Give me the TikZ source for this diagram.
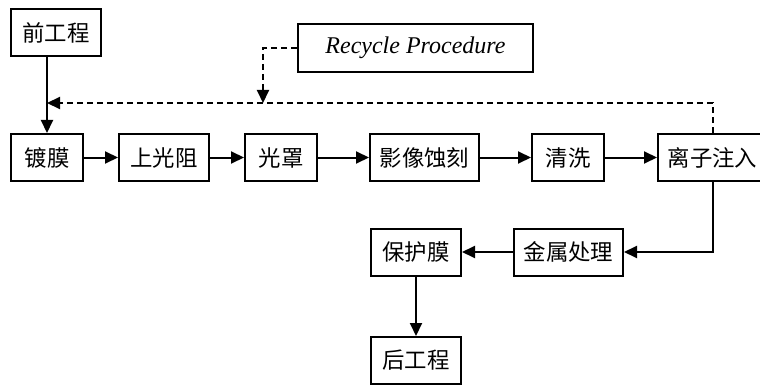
\documentclass[tikz,border=0pt]{standalone}
\usepackage{fontspec}
\setmainfont{Liberation Serif}
\newfontfamily\cjk{Noto Sans CJK SC}
\usetikzlibrary{arrows.meta}

\tikzset{
  procbox/.style={draw, line width=1pt, minimum height=23.5pt, inner sep=0pt,
    font=\cjk\fontsize{11.2pt}{13pt}\selectfont},
  flow/.style={line width=1pt, -{Triangle[length=6.5pt,width=6pt]}},
  backflow/.style={flow, dash pattern=on 3pt off 2pt},
}

\begin{document}
\begin{tikzpicture}[x=0.5pt, y=-0.5pt]
  \useasboundingbox (0,0) rectangle (760,385);
  % 前后工程
  \node[procbox, minimum width=45pt] (qian) at (56,32.5) {前工程};
  \node[procbox, minimum width=45pt] (hou) at (416,360.5) {后工程};
  % 主流程
  \node[procbox, minimum width=36pt] (dumo) at (47,157.5) {镀膜};
  \node[procbox, minimum width=45pt] (guangzu) at (164,157.5) {上光阻};
  \node[procbox, minimum width=36pt] (guangzhao) at (281,157.5) {光罩};
  \node[procbox, minimum width=54.5pt] (keshi) at (424.5,157.5) {影像蚀刻};
  \node[procbox, minimum width=36pt] (qingxi) at (568,157.5) {清洗};
  \node[procbox, minimum width=54.5pt] (lizi) at (712.5,157.5) {离子注入};
  \node[procbox, minimum width=54.5pt] (jinshu) at (568.5,252) {金属处理};
  \node[procbox, minimum width=45pt] (baohu) at (416,252) {保护膜};
  % 回收
  \node[draw, line width=1pt, minimum width=117.5pt, minimum height=24pt,
    font=\itshape\fontsize{12pt}{14pt}\selectfont] (recycle) at (415.5,48) {Recycle Procedure};
  \coordinate (back) at (47,103);
  \coordinate (drop) at (263,103);

  \draw[flow] (qian.south -| dumo) -- (dumo.north);
  \draw[flow] (dumo) -- (guangzu);
  \draw[flow] (guangzu) -- (guangzhao);
  \draw[flow] (guangzhao) -- (keshi);
  \draw[flow] (keshi) -- (qingxi);
  \draw[flow] (qingxi) -- (lizi);
  \draw[flow] (lizi.south) |- (jinshu.east);
  \draw[flow] (jinshu) -- (baohu);
  \draw[flow] (baohu) -- (hou);
  \draw[backflow] (lizi.north) |- (back);
  \draw[backflow] (recycle.west) -| (drop);
\end{tikzpicture}
\end{document}
